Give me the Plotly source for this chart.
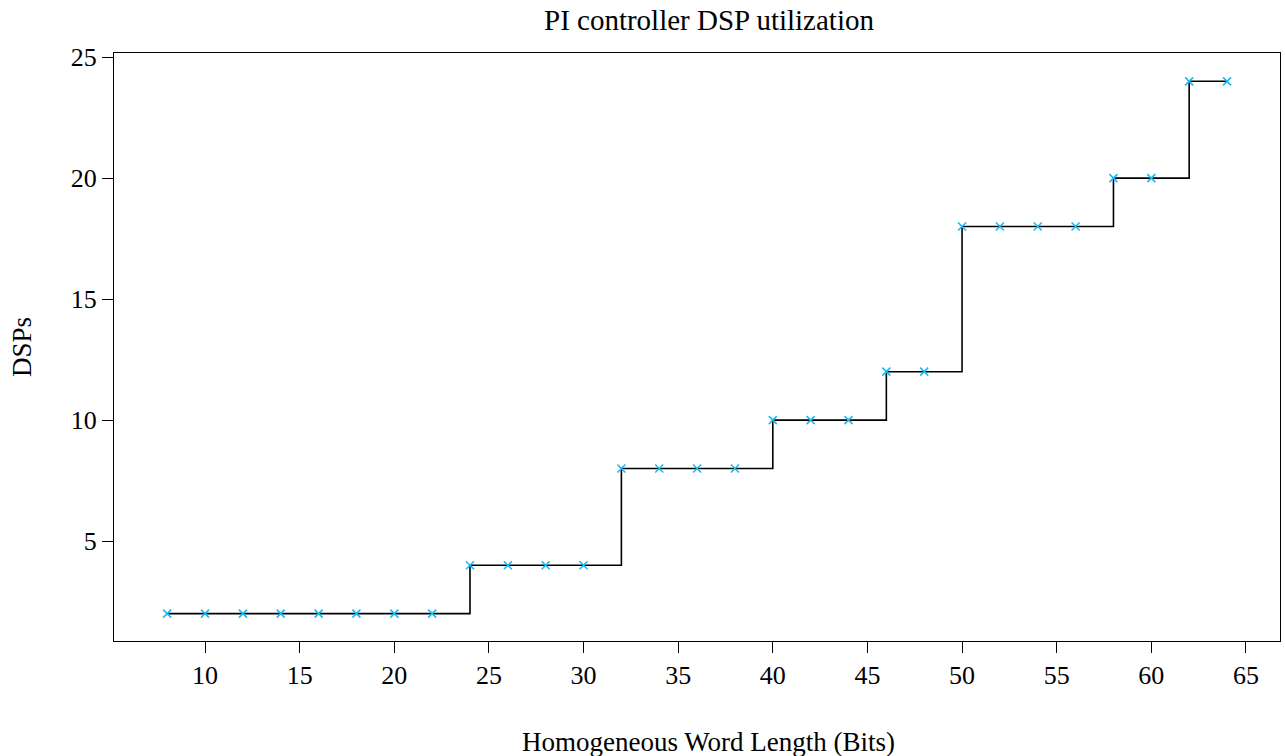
import plotly.graph_objects as go

word_length = [8, 10, 12, 14, 16, 18, 20, 22, 24, 26, 28, 30, 32, 34, 36, 38,
               40, 42, 44, 46, 48, 50, 52, 54, 56, 58, 60, 62, 64]
dsps = [2, 2, 2, 2, 2, 2, 2, 2, 4, 4, 4, 4, 8, 8, 8, 8,
        10, 10, 10, 12, 12, 18, 18, 18, 18, 20, 20, 24, 24]
x_ticks = [10, 15, 20, 25, 30, 35, 40, 45, 50, 55, 60, 65]
y_ticks = [5, 10, 15, 20, 25]

FONT = "Liberation Serif"

fig = go.Figure()
fig.add_trace(go.Scatter(
    x=word_length, y=dsps, mode="lines",
    line=dict(shape="hv", color="black", width=1.6),
    showlegend=False, hoverinfo="skip"))
fig.add_trace(go.Scatter(
    x=word_length, y=dsps, mode="markers",
    marker=dict(symbol="x-thin", size=8, line=dict(color="#1EB8F0", width=1.6)),
    showlegend=False))

axis_common = dict(
    showgrid=False, zeroline=False, showline=True, linecolor="black", linewidth=1.2,
    mirror=True, ticks="outside", ticklen=11, tickwidth=1, tickcolor="black",
    tickfont=dict(family=FONT, size=26, color="black"))

fig.update_layout(
    width=1285, height=756,
    margin=dict(l=114, r=5, t=53, b=115),
    paper_bgcolor="white", plot_bgcolor="white",
    font=dict(family=FONT, size=26, color="black"),
    xaxis=dict(range=[5.19, 66.8], tickvals=x_ticks, **axis_common),
    yaxis=dict(range=[0.87, 25.17], tickvals=y_ticks, **axis_common),
    annotations=[
        dict(text="PI controller DSP utilization", xref="paper", yref="paper",
             x=0.51, y=1, yshift=33, xanchor="center", yanchor="middle",
             showarrow=False, font=dict(family=FONT, size=29)),
        dict(text="Homogeneous Word Length (Bits)", xref="paper", yref="paper",
             x=0.51, y=0, yshift=-101, xanchor="center", yanchor="middle",
             showarrow=False, font=dict(family=FONT, size=27)),
        dict(text="DSPs", xref="paper", yref="paper", textangle=-90,
             x=0, xshift=-92, y=0.5, xanchor="center", yanchor="middle",
             showarrow=False, font=dict(family=FONT, size=27)),
    ],
)

fig.write_html("out.html")
